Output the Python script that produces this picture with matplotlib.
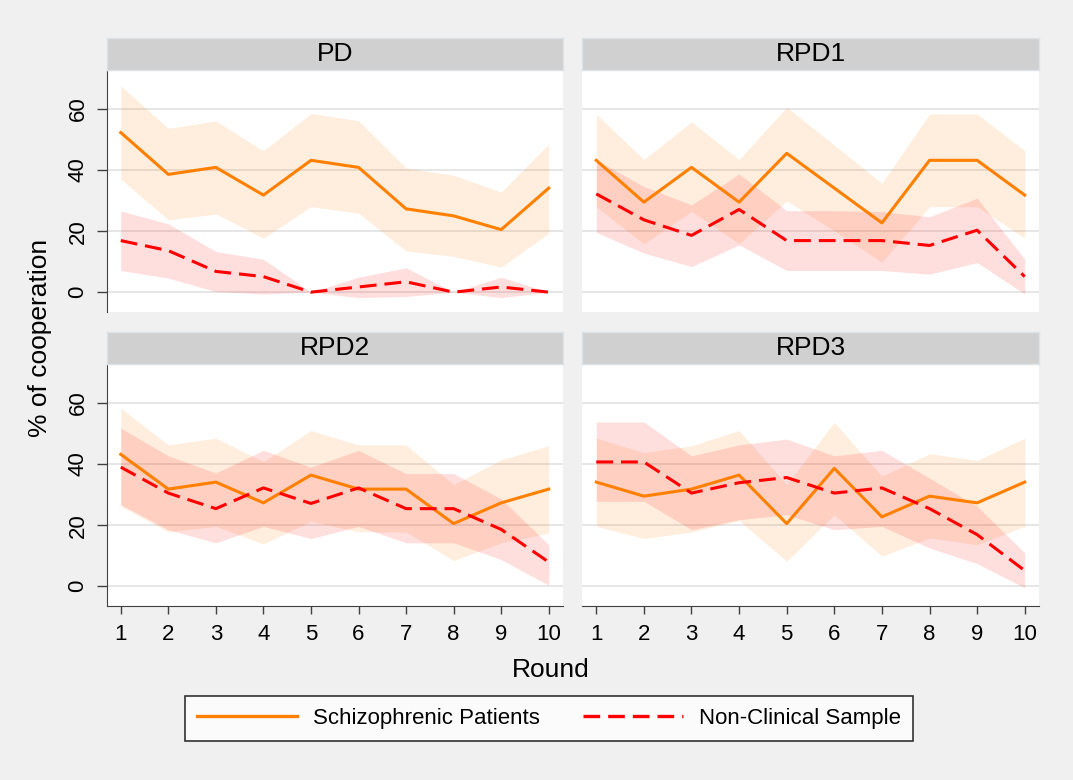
import numpy as np
import matplotlib
matplotlib.use("Agg")
import matplotlib.pyplot as plt
from matplotlib.lines import Line2D

plt.rcParams['font.family'] = ['Liberation Sans', 'DejaVu Sans']

rounds = [1, 2, 3, 4, 5, 6, 7, 8, 9, 10]
panels = ["PD", "RPD1", "RPD2", "RPD3"]
series_names = ["Schizophrenic Patients", "Non-Clinical Sample"]

# schizophrenic patients (mean, upper CI, lower CI)
pd_sz = [52.3, 38.6, 40.9, 31.8, 43.2, 40.9, 27.3, 25.0, 20.5, 34.1]
pd_sz_hi = [67.6, 53.7, 56.1, 46.3, 58.6, 56.2, 40.7, 38.3, 32.8, 48.5]
pd_sz_lo = [37.1, 23.7, 25.6, 17.7, 28.0, 25.9, 13.5, 11.7, 8.2, 19.3]
rpd1_sz = [43.2, 29.5, 40.9, 29.5, 45.5, 34.1, 22.7, 43.2, 43.2, 31.8]
rpd1_sz_hi = [58.3, 43.5, 55.8, 43.5, 60.6, 48.2, 35.7, 58.4, 58.4, 46.4]
rpd1_sz_lo = [28.0, 15.8, 26.5, 15.9, 29.9, 20.1, 9.8, 28.0, 28.0, 17.7]
rpd2_sz = [43.2, 31.8, 34.1, 27.3, 36.4, 31.8, 31.8, 20.5, 27.3, 31.8]
rpd2_sz_hi = [58.3, 46.3, 48.5, 40.8, 51.0, 46.3, 46.3, 33.3, 41.4, 46.0]
rpd2_sz_lo = [26.2, 17.8, 19.6, 13.8, 21.3, 17.8, 17.8, 8.4, 14.2, 17.4]
rpd3_sz = [34.1, 29.5, 31.8, 36.4, 20.5, 38.6, 22.7, 29.5, 27.3, 34.1]
rpd3_sz_hi = [48.5, 43.8, 46.0, 51.0, 33.3, 53.7, 36.0, 43.4, 41.2, 48.5]
rpd3_sz_lo = [19.6, 15.6, 17.7, 21.5, 8.2, 23.4, 9.8, 15.8, 13.6, 19.6]

# non-clinical sample (mean, upper CI, lower CI)
pd_nc = [16.9, 13.6, 6.8, 5.1, 0.0, 1.7, 3.4, 0.0, 1.7, 0.0]
pd_nc_hi = [26.6, 22.4, 13.3, 10.8, 0.0, 4.9, 8.0, 0.0, 4.9, 0.0]
pd_nc_lo = [7.1, 4.6, 0.2, -0.6, 0.0, -1.8, -1.4, 0.0, -1.8, 0.0]
rpd1_nc = [32.2, 23.7, 18.6, 27.1, 16.9, 16.9, 16.9, 15.3, 20.3, 5.1]
rpd1_nc_hi = [43.3, 34.6, 28.6, 38.7, 26.7, 26.7, 26.4, 24.7, 30.8, 10.8]
rpd1_nc_lo = [19.6, 12.8, 8.4, 15.5, 7.1, 7.1, 7.1, 5.9, 9.7, -0.6]
rpd2_nc = [39.0, 30.5, 25.4, 32.2, 27.1, 32.2, 25.4, 25.4, 18.6, 7.9]
rpd2_nc_hi = [51.8, 42.7, 37.1, 44.5, 39.0, 44.5, 36.9, 36.9, 28.6, 13.6]
rpd2_nc_lo = [26.7, 18.5, 14.2, 19.6, 15.6, 19.6, 14.2, 14.2, 8.7, 0.3]
rpd3_nc = [40.7, 40.7, 30.5, 33.9, 35.6, 30.5, 32.2, 25.4, 16.9, 5.1]
rpd3_nc_hi = [53.8, 53.8, 42.7, 46.3, 48.2, 42.7, 44.5, 35.4, 26.2, 10.9]
rpd3_nc_lo = [27.8, 27.8, 18.5, 21.8, 23.4, 18.5, 19.6, 12.5, 7.4, -0.5]

sz_data = [(pd_sz, pd_sz_hi, pd_sz_lo), (rpd1_sz, rpd1_sz_hi, rpd1_sz_lo),
           (rpd2_sz, rpd2_sz_hi, rpd2_sz_lo), (rpd3_sz, rpd3_sz_hi, rpd3_sz_lo)]
nc_data = [(pd_nc, pd_nc_hi, pd_nc_lo), (rpd1_nc, rpd1_nc_hi, rpd1_nc_lo),
           (rpd2_nc, rpd2_nc_hi, rpd2_nc_lo), (rpd3_nc, rpd3_nc_hi, rpd3_nc_lo)]

ORANGE = '#ff8000'
RED = '#ff0000'
BG = '#f0f0f0'
W, H = 1073.0, 780.0


def px_box(x0, y0, x1, y1):
    # pixel box (top-left origin) -> figure fraction rect
    return [x0 / W, 1 - y1 / H, (x1 - x0) / W, (y1 - y0) / H]


def draw_panel(fig, i, title):
    col = i % 2
    row = i // 2
    xs = [106.5, 582.0][col]
    xe = [563.0, 1039.0][col]
    ys = [70.0, 364.0][row]
    ye = [312.0, 606.0][row]

    ax = fig.add_axes(px_box(xs, ys, xe, ye))
    ax.set_facecolor('white')
    m, hi, lo = sz_data[i]
    ax.fill_between(rounds, lo, hi, color=ORANGE, alpha=0.13, lw=0)
    m2, hi2, lo2 = nc_data[i]
    ax.fill_between(rounds, lo2, hi2, color=RED, alpha=0.13, lw=0)
    ax.plot(rounds, m, color=ORANGE, lw=2.2, zorder=3)
    ax.plot(rounds, m2, color=RED, lw=2.2, dashes=(5.5, 2.6), zorder=3)

    ax.set_xlim(0.7, 10.3)
    ax.set_ylim(-6.5, 72.8)
    ax.set_yticks([0, 20, 40, 60])
    ax.set_xticks(rounds)
    ax.yaxis.grid(True, color='#e4e4e4', lw=1.3)
    ax.set_axisbelow(True)
    for s in ['top', 'right']:
        ax.spines[s].set_visible(False)
    ax.spines['left'].set_color('#404040')
    ax.spines['bottom'].set_color('#404040')

    if col == 0:
        ax.tick_params(axis='y', length=7, width=1, color='#404040', pad=6, labelsize=16)
        for lab in ax.get_yticklabels():
            lab.set_rotation(90)
            lab.set_va('center')
    else:
        ax.spines['left'].set_visible(False)
        ax.tick_params(axis='y', left=False, labelleft=False)

    if row == 1:
        ax.tick_params(axis='x', length=6, width=1, color='#404040', pad=7, labelsize=16)
    else:
        ax.spines['bottom'].set_visible(False)
        ax.tick_params(axis='x', bottom=False, labelbottom=False)

    # strip header
    sx = fig.add_axes(px_box(xs, ys - 32.3, xe, ys))
    sx.set_facecolor('#d0d0d0')
    sx.set_xticks([])
    sx.set_yticks([])
    for s in sx.spines.values():
        s.set_color('#dce3e8')
        s.set_linewidth(1)
    sx.text(0.5, 0.5, title, ha='center', va='center', fontsize=19, transform=sx.transAxes)
    return ax


if __name__ == "__main__":
    fig = plt.figure(figsize=(W / 100, H / 100), dpi=100, facecolor=BG)
    for i in range(4):
        draw_panel(fig, i, panels[i])

    fig.text(40 / W, 1 - 338 / H, '% of cooperation', rotation=90, ha='center', va='center', fontsize=19)
    fig.text(551 / W, 1 - 670 / H, 'Round', ha='center', va='center', fontsize=19)

    handles = [Line2D([], [], color=ORANGE, lw=2.4),
               Line2D([], [], color=RED, lw=2.4, dashes=(5, 2.4))]
    leg = fig.legend(handles, series_names, loc='center', bbox_to_anchor=(549 / W, 1 - 718.5 / H),
                     ncol=2, fontsize=16, frameon=True, fancybox=False, edgecolor='black',
                     handlelength=4.5, handletextpad=0.75, columnspacing=1.9, borderpad=0.55,
                     borderaxespad=0)
    leg.get_frame().set_linewidth(1.2)
    leg.get_frame().set_facecolor('white')

    fig.savefig('out.png', dpi=100, facecolor=BG)
